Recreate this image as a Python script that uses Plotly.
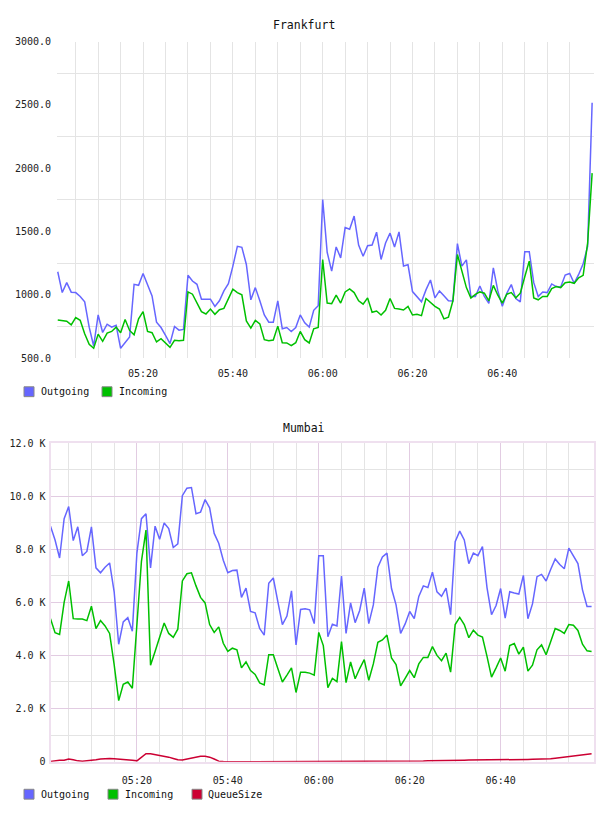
import pandas as pd
import plotly.graph_objects as go

# ---------------- data ----------------
times = list(pd.date_range("2024-01-01 05:01", "2024-01-01 07:00", freq="1min"))

fra_outgoing = [
    1182, 1018, 1096, 1021, 1018, 987, 945, 745, 596, 841,
    703, 768, 745, 760, 578, 622, 667, 1083, 1075, 1169,
    1083, 992, 784, 742, 680, 615, 750, 721, 727, 1154,
    1109, 1083, 966, 966, 966, 909, 953, 1031, 1088, 1227,
    1383, 1375, 1240, 961, 1057, 953, 841, 784, 784, 953,
    732, 742, 711, 742, 841, 779, 745, 878, 914, 1753,
    1336, 1187, 1378, 1292, 1531, 1518, 1622, 1393, 1305, 1388,
    1393, 1495, 1279, 1409, 1487, 1378, 1497, 1227, 1237, 1026,
    987, 945, 1039, 1117, 976, 1031, 992, 953, 951, 1404,
    1227, 1276, 987, 987, 1070, 987, 932, 1213, 1031, 909,
    1013, 1081, 971, 945, 1341, 1341, 1096, 987, 1023, 1018,
    1086, 1065, 1062, 1156, 1169, 1091, 1161, 1245, 1383, 2516,
]
fra_incoming = [
    802, 794, 792, 763, 820, 799, 693, 609, 578, 690,
    633, 698, 711, 745, 701, 805, 719, 685, 810, 867,
    711, 701, 628, 654, 622, 586, 641, 638, 641, 1023,
    1005, 940, 867, 849, 888, 846, 883, 893, 966, 1044,
    1018, 1000, 794, 737, 799, 771, 646, 638, 643, 753,
    622, 620, 599, 622, 711, 646, 620, 732, 742, 1279,
    935, 930, 997, 935, 1023, 1047, 1018, 953, 927, 976,
    862, 872, 841, 878, 971, 893, 888, 880, 909, 841,
    846, 836, 971, 940, 909, 888, 810, 823, 953, 1318,
    1187, 1057, 974, 1003, 1023, 1013, 953, 1075, 997, 935,
    1005, 1018, 976, 1013, 1143, 1266, 976, 961, 987, 987,
    1049, 1065, 1057, 1096, 1102, 1091, 1135, 1154, 1409, 1961,
]

mum_outgoing = [
    8867, 8349, 7669, 9151, 9608, 8324, 8843, 7756, 7916, 8843,
    7299, 7114, 7324, 7484, 6397, 4421, 5261, 5422, 4915, 7855,
    9151, 9337, 7299, 8867, 8373, 8991, 8781, 8065, 8200, 10016,
    10300, 10325, 9337, 9398, 9868, 9559, 8596, 8225, 7583, 7114,
    7200, 7212, 6187, 6533, 5656, 5607, 5014, 4767, 6718, 6916,
    6027, 5162, 5483, 6434, 4397, 5730, 5755, 5718, 5199, 7756,
    7756, 4705, 5175, 5113, 6990, 4829, 5977, 5236, 5693, 6533,
    5199, 5903, 7324, 7706, 7855, 6521, 5903, 4829, 5187, 5656,
    5385, 6225, 6620, 6558, 7138, 6397, 6225, 6533, 5533, 8287,
    8682, 8349, 7459, 7855, 7756, 8102, 6558, 5533, 5879, 6521,
    5409, 6397, 6348, 6311, 7015, 5385, 5940, 6966, 7052, 6805,
    7237, 7632, 7422, 7262, 8040, 7756, 7459, 6471, 5841, 5841,
]
mum_incoming = [
    5385, 4854, 4792, 6002, 6805, 5385, 5372, 5372, 5311, 5854,
    5014, 5311, 5113, 4829, 3656, 2297, 2915, 3001, 2766, 5261,
    7546, 8719, 3631, 4150, 4681, 5224, 4829, 4681, 4989, 6805,
    7077, 7114, 6620, 6187, 5977, 5162, 4866, 5076, 4458, 4150,
    4273, 4211, 3532, 3754, 3433, 3285, 2964, 2890, 4026, 4026,
    3507, 3001, 3260, 3532, 2606, 3371, 3371, 3334, 3260, 4866,
    4372, 2791, 3137, 3013, 4520, 2976, 3754, 3125, 3507, 3841,
    3063, 3680, 4495, 4582, 4767, 3903, 3656, 2853, 3137, 3433,
    3162, 3680, 3927, 3927, 4335, 4001, 3804, 4088, 3371, 5162,
    5434, 5162, 4668, 4952, 4767, 4693, 3964, 3186, 3532, 3903,
    3408, 4372, 4446, 4051, 4310, 3408, 3631, 4211, 4397, 4026,
    4520, 5014, 4940, 4829, 5162, 5137, 4940, 4421, 4174, 4150,
]
mum_queue = [
    10, 40, 50, 50, 100, 70, 30, 20, 30, 50,
    70, 100, 120, 120, 110, 100, 90, 70, 50, 30,
    170, 300, 300, 270, 230, 200, 170, 120, 70, 60,
    100, 120, 160, 200, 200, 170, 100, 20, 5, 0,
    0, 0, 0, 0, 0, 0, 0, 0, 0, 0,
    0, 0, 0, 0, 0, 0, 0, 0, 0, 0,
    0, 0, 0, 0, 0, 0, 0, 0, 0, 0,
    0, 0, 0, 0, 0, 0, 0, 0, 5, 10,
    15, 20, 25, 30, 30, 35, 35, 40, 40, 45,
    50, 55, 60, 60, 65, 65, 70, 70, 70, 75,
    75, 80, 80, 80, 85, 85, 90, 90, 95, 100,
    110, 130, 150, 170, 200, 220, 240, 260, 280, 300,
]

fra_y_ticks = [500, 1000, 1500, 2000, 2500, 3000]
fra_y_labels = ["500.0", "1000.0", "1500.0", "2000.0", "2500.0", "3000.0"]
mum_y_ticks = [0, 2000, 4000, 6000, 8000, 10000, 12000]
mum_y_labels = ["0", "2.0 K", "4.0 K", "6.0 K", "8.0 K", "10.0 K", "12.0 K"]
x_tick_labels = ["05:20", "05:40", "06:00", "06:20", "06:40"]

# ---------------- style ----------------
W, H = 608, 816
FONT = "DejaVu Sans Mono"
C_OUT = "#6666ff"
C_IN = "#00c000"
C_Q = "#cc0033"
GRID = "#e4e4e4"
PINK = "#e2cce2"
FRAME = "#efe0ef"

def px(x):
    return x / W

def py(y):
    return 1 - y / H

x_major = [pd.Timestamp("2024-01-01 " + t) for t in x_tick_labels]
x_minor = list(pd.date_range("2024-01-01 05:05", "2024-01-01 06:55", freq="5min"))

fig = go.Figure()

fig.add_trace(go.Scatter(x=times, y=fra_outgoing, mode="lines", name="Outgoing",
                         line=dict(color=C_OUT, width=1.5), xaxis="x", yaxis="y",
                         showlegend=False))
fig.add_trace(go.Scatter(x=times, y=fra_incoming, mode="lines", name="Incoming",
                         line=dict(color=C_IN, width=1.5), xaxis="x", yaxis="y",
                         showlegend=False))
fig.add_trace(go.Scatter(x=times, y=mum_outgoing, mode="lines", name="Outgoing",
                         line=dict(color=C_OUT, width=1.5), xaxis="x2", yaxis="y2",
                         showlegend=False))
fig.add_trace(go.Scatter(x=times, y=mum_incoming, mode="lines", name="Incoming",
                         line=dict(color=C_IN, width=1.5), xaxis="x2", yaxis="y2",
                         showlegend=False))
fig.add_trace(go.Scatter(x=times, y=mum_queue, mode="lines", name="QueueSize",
                         line=dict(color=C_Q, width=1.5), xaxis="x2", yaxis="y2",
                         showlegend=False, cliponaxis=False))

tickfont = dict(family=FONT, size=10, color="#222222")

fig.update_layout(
    width=W, height=H, autosize=False,
    margin=dict(l=0, r=0, t=0, b=0),
    paper_bgcolor="white", plot_bgcolor="white",
    showlegend=False,
    xaxis=dict(
        domain=[px(57), px(594)], anchor="y",
        range=["2024-01-01 05:00:50", "2024-01-01 07:00:25"],
        tickmode="array", tickvals=x_major, ticktext=x_tick_labels,
        showgrid=True, gridcolor=GRID, gridwidth=1,
        minor=dict(tickmode="array", tickvals=x_minor, showgrid=True,
                   gridcolor=GRID, gridwidth=1, ticklen=0),
        ticks="", zeroline=False, showline=False,
        tickfont=tickfont, ticklabelstandoff=8,
    ),
    yaxis=dict(
        domain=[py(358), py(37)], anchor="x",
        range=[500, 3000],
        tickmode="array", tickvals=fra_y_ticks, ticktext=fra_y_labels,
        showgrid=False,
        minor=dict(tickmode="array", tickvals=[750, 1250, 1750, 2250, 2750],
                   showgrid=True, gridcolor=GRID, gridwidth=1, ticklen=0),
        ticks="", zeroline=False, showline=False,
        tickfont=tickfont, ticklabelstandoff=5,
    ),
    xaxis2=dict(
        domain=[px(50.5), px(594)], anchor="y2",
        range=["2024-01-01 05:01:00", "2024-01-01 07:00:32"],
        tickmode="array", tickvals=x_major, ticktext=x_tick_labels,
        showgrid=True, gridcolor=PINK, gridwidth=1,
        minor=dict(tickmode="array", tickvals=x_minor, showgrid=True,
                   gridcolor=GRID, gridwidth=1, ticklen=0),
        ticks="", zeroline=False,
        showline=True, mirror=True, linecolor=FRAME, linewidth=2,
        tickfont=tickfont, ticklabelstandoff=8,
    ),
    yaxis2=dict(
        domain=[py(767), py(444)], anchor="x2",
        range=[0, 12000],
        tickmode="array", tickvals=mum_y_ticks, ticktext=mum_y_labels,
        showgrid=True, gridcolor=PINK, gridwidth=1,
        minor=dict(tickmode="array", tickvals=[1000, 3000, 5000, 7000, 9000, 11000],
                   showgrid=True, gridcolor=GRID, gridwidth=1, ticklen=0),
        ticks="", zeroline=False,
        showline=True, mirror=True, linecolor=FRAME, linewidth=2,
        tickfont=tickfont, ticklabelstandoff=1,
    ),
)

# titles
for text, y in [("Frankfurt", 20), ("Mumbai", 429)]:
    fig.add_annotation(text=text, x=0.5, y=py(y), xref="paper", yref="paper",
                       showarrow=False, xanchor="center", yanchor="middle",
                       font=dict(family=FONT, size=11.5, color="#111111"))

# legends (square swatches + labels)
legend_rows = [
    (392, [("Outgoing", C_OUT, 24, 39), ("Incoming", C_IN, 102, 117)]),
    (800, [("Outgoing", C_OUT, 24, 39), ("Incoming", C_IN, 108, 123),
           ("QueueSize", C_Q, 192, 206)]),
]
for yc, items in legend_rows:
    for label, color, sx, tx in items:
        fig.add_shape(type="rect", xref="paper", yref="paper",
                      x0=px(sx), x1=px(sx + 10), y0=py(yc + 5), y1=py(yc - 5),
                      fillcolor=color, line=dict(color="#888888", width=1))
        fig.add_annotation(text=label, x=px(tx), y=py(yc), xref="paper", yref="paper",
                           showarrow=False, xanchor="left", yanchor="middle",
                           font=dict(family=FONT, size=10, color="#111111"))

fig.write_html("out.html")
